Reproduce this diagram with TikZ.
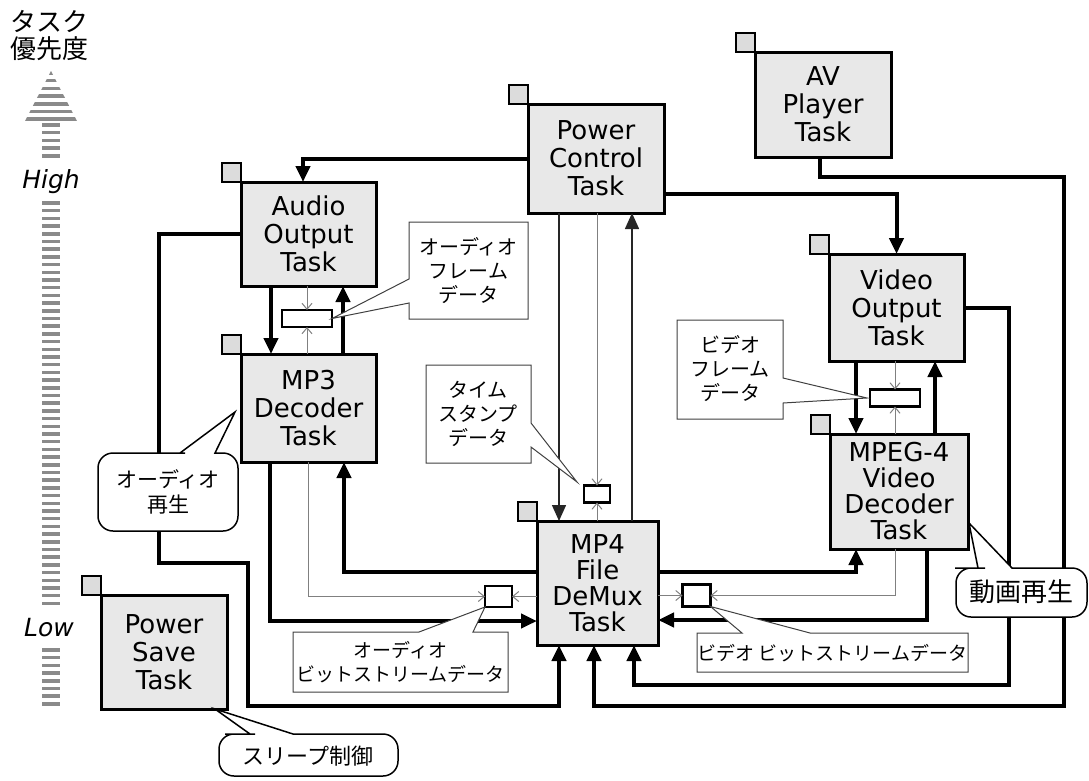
\documentclass[tikz,border=0pt]{standalone}
\usepackage{fontspec}
\setmainfont{DejaVu Sans}
\newfontfamily\jp{Noto Sans CJK JP}
\usetikzlibrary{arrows.meta}
\definecolor{boxgray}{HTML}{E8E8E8}
\definecolor{sqgray}{HTML}{DCDCDC}
\definecolor{thingray}{HTML}{808080}
\definecolor{stripe}{HTML}{8A8A8A}
\begin{document}
\begin{tikzpicture}[x=1pt,y=-1pt,
  task/.style={draw, line width=3pt, fill=boxgray, inner sep=0pt, outer sep=0pt, align=center, anchor=north west, font=\fontsize{26}{28}\selectfont},
  task4/.style={task, font=\fontsize{26}{26}\selectfont},
  tsq/.style={draw, line width=2.5pt, fill=sqgray, minimum size=19pt, inner sep=0pt, outer sep=0pt, anchor=south east},
  buf/.style={draw, line width=2.5pt, fill=white, inner sep=0pt, outer sep=0pt},
  conn/.style={line width=4pt, -{Triangle[length=16pt,width=14pt]}},
  thinarr/.style={line width=1.5pt, draw=black!85, -{Triangle[length=16pt,width=14pt]}},
  grayarr/.style={line width=1pt, draw=thingray, -{Straight Barb[length=6pt,width=10pt]}},
  callout/.style={draw=black!75, line width=1pt, fill=white},
  bubble/.style={draw, line width=1.5pt, fill=white},
  jtext/.style={font=\jp\fontsize{19}{24}\selectfont, align=center, inner sep=0pt},
  jtext3/.style={font=\jp\fontsize{20}{24}\selectfont, align=center, inner sep=0pt},
  stripeline/.style={draw=stripe, line width=3.5pt},
]
\useasboundingbox (0,0) rectangle (1089,780);

% lanes
\coordinate (x159) at (159,0);
\coordinate (x248) at (248,0);
\coordinate (x270) at (270,0);
\coordinate (x271) at (271,0);
\coordinate (x303) at (303,0);
\coordinate (x343) at (343,0);
\coordinate (x344) at (344,0);
\coordinate (x559) at (559,0);
\coordinate (x594) at (594,0);
\coordinate (x632) at (632,0);
\coordinate (x634) at (634,0);
\coordinate (x820) at (820,0);
\coordinate (x856) at (856,0);
\coordinate (x895) at (895,0);
\coordinate (x927) at (927,0);
\coordinate (x935) at (935,0);
\coordinate (x1009) at (1009,0);
\coordinate (x1064) at (1064,0);
\coordinate (y177) at (0,177);
\coordinate (y194) at (0,194);
\coordinate (y563) at (0,563);
\coordinate (y572) at (0,572);
\coordinate (y620) at (0,620);
\coordinate (y621) at (0,621);
\coordinate (y685) at (0,685);
\coordinate (y706) at (0,706);

% priority axis
\node[font=\jp\fontsize{26}{27}\selectfont, align=center, inner sep=0pt] (prio) at (49,36) {タスク\\優先度};
\begin{scope}
\clip (25,121) -- (51,71) -- (77,121) -- cycle;
\foreach \y in {73,80.7,...,120} \draw[stripeline] (20,\y) -- (82,\y);
\end{scope}
\foreach \y in {125,132.7,...,158} \draw[stripeline] (42,\y) -- (60,\y);
\node[font=\itshape\fontsize{25}{28}\selectfont, inner sep=0pt] (high) at (51,182) {High};
\foreach \y in {203,210.7,...,611} \draw[stripeline] (42,\y) -- (60,\y);
\node[font=\itshape\fontsize{25}{28}\selectfont, inner sep=0pt] (low) at (49,628) {Low};
\foreach \y in {650,657.7,...,704} \draw[stripeline] (42,\y) -- (60,\y);

% tasks
\node[task, minimum width=135pt, minimum height=104pt] (aout) at (241,182) {Audio\\Output\\Task};
\node[task, minimum width=135pt, minimum height=108pt] (mp3) at (241,354) {MP3\\Decoder\\Task};
\node[task, minimum width=136pt, minimum height=109pt] (pc) at (528,104) {Power\\Control\\Task};
\node[task, minimum width=136pt, minimum height=105pt] (av) at (755,52) {AV\\Player\\Task};
\node[task, minimum width=135pt, minimum height=107pt] (vout) at (829,254) {Video\\Output\\Task};
\node[task4, minimum width=138pt, minimum height=115pt] (mpeg) at (830,434) {MPEG-4\\Video\\Decoder\\Task};
\node[task4, minimum width=121pt, minimum height=124pt] (mp4) at (537,521) {MP4\\File\\DeMux\\Task};
\node[task, minimum width=126pt, minimum height=114pt] (ps) at (101,595) {Power\\Save\\Task};

\foreach \n in {aout,mp3,pc,av,vout,mpeg,mp4,ps} \node[tsq] (\n sq) at (\n.north west) {};

% buffers
\node[buf, minimum width=50pt, minimum height=17pt] (abuf) at (307,318.5) {};
\node[buf, minimum width=26pt, minimum height=17pt] (tsbuf) at (597,494) {};
\node[buf, minimum width=27pt, minimum height=21pt] (abbuf) at (498.5,596.5) {};
\node[buf, minimum width=28pt, minimum height=22pt] (vbbuf) at (696.5,595.5) {};
\node[buf, minimum width=50pt, minimum height=17pt] (vbuf) at (895,398) {};

% power control
\draw[conn] (pc.west) -| (aout.north -| x303);
\draw[conn] (pc.east |- y194) -| (vout.north);
\draw[thinarr] (pc.south -| x559) -- (mp4.north -| x559);
\draw[thinarr] (mp4.north -| x632) -- (pc.south -| x632);
\draw[grayarr] (pc.south -| tsbuf.north) -- (tsbuf.north);
\draw[grayarr] (mp4.north -| tsbuf.south) -- (tsbuf.south);

% audio
\draw[conn] (aout.south -| x271) -- (mp3.north -| x271);
\draw[conn] (mp3.north -| x343) -- (aout.south -| x343);
\draw[grayarr] (aout.south -| abuf.north) -- (abuf.north);
\draw[grayarr] (mp3.north -| abuf.south) -- (abuf.south);
\draw[conn] (mp4.west |- y572) -| (mp3.south -| x344);
\draw[conn] (mp3.south -| x270) |- (mp4.west |- y621);
\draw[grayarr] (mp3.south) |- (abbuf.west);
\draw[grayarr] (mp4.west |- abbuf.east) -- (abbuf.east);

% video
\draw[conn] (vout.south -| x856) -- (mpeg.north -| x856);
\draw[conn] (mpeg.north -| x935) -- (vout.south -| x935);
\draw[grayarr] (vout.south -| vbuf.north) -- (vbuf.north);
\draw[grayarr] (mpeg.north -| vbuf.south) -- (vbuf.south);
\draw[conn] (mp4.east |- y572) -| (mpeg.south -| x856);
\draw[conn] (mpeg.south -| x927) |- (mp4.east |- y620);
\draw[grayarr] (mpeg.south -| x895) |- (vbbuf.east);
\draw[grayarr] (mp4.east |- vbbuf.west) -- (vbbuf.west);

% outer loops
\draw[conn] (aout.west) -| (x159 |- y563) -| (x248 |- y706) -| (mp4.south -| x559);
\draw[conn] (vout.east) -| (x1009 |- y685) -| (mp4.south -| x634);
\draw[conn] (av.south -| x820) |- (x1064 |- y177) |- (x594 |- y706) -- (mp4.south -| x594);

% rectangular callouts
\draw[callout] (409,222) -- (528,222) -- (528,319) -- (409,319) -- (409,303) -- (abuf.east) -- (409,279) -- cycle;
\node[jtext3] (acall) at (468.5,271) {オーディオ\\フレーム\\データ};
\draw[callout] (426,365) -- (531,365) -- (531,423) -- ([xshift=-7pt,yshift=3.5pt]tsbuf.north west) -- (531,447) -- (531,463) -- (426,463) -- cycle;
\node[jtext3] (tscall) at (478,414) {タイム\\スタンプ\\データ};
\draw[callout] (677,320) -- (783,320) -- (783,378) -- ([xshift=-3pt]vbuf.west) -- (783,403) -- (783,419) -- (677,419) -- cycle;
\node[jtext3] (vfcall) at (730,369) {ビデオ\\フレーム\\データ};
\draw[callout] (293,632) -- (419,632) -- (abbuf.south west) -- (473,632) -- (508,632) -- (508,692) -- (293,692) -- cycle;
\node[jtext] (abcall) at (400.5,662) {オーディオ\\ビットストリームデータ};
\draw[callout] (697,633) -- (742,633) -- (vbbuf.south east) -- (810,633) -- (968,633) -- (968,672) -- (697,672) -- cycle;
\node[jtext] (vbcall) at (832.5,653) {ビデオ ビットストリームデータ};

% rounded bubbles
\draw[bubble] (170,453) -- (180,453) -- ([xshift=-6pt,yshift=-4pt]mp3.west) -- (215,453) -- (223,453) [rounded corners=15pt] -- (238,453) -- (238,531) -- (98,531) -- (98,453) -- cycle;
\node[font=\jp\fontsize{21}{25}\selectfont, align=center, inner sep=0pt] (bub1) at (168,492) {オーディオ\\再生};
\draw[bubble] (970,568) -- (978,568) -- ([xshift=1pt,yshift=26pt]mpeg.south east) -- (1012,568) -- (1020,568) [rounded corners=15pt] -- (1087,568) -- (1087,617) -- (956,617) -- (956,568) -- cycle;
\node[font=\jp\fontsize{26}{28}\selectfont, inner sep=0pt] (bub2) at (1021,592) {動画再生};
\draw[bubble] (240,734) -- (250,734) -- ([xshift=-12pt]ps.south east) -- (293,734) -- (300,734) [rounded corners=15pt] -- (398,734) -- (398,776) -- (219,776) -- (219,734) -- cycle;
\node[font=\jp\fontsize{22}{26}\selectfont, inner sep=0pt] (bub3) at (308,756) {スリープ制御};
\end{tikzpicture}
\end{document}
